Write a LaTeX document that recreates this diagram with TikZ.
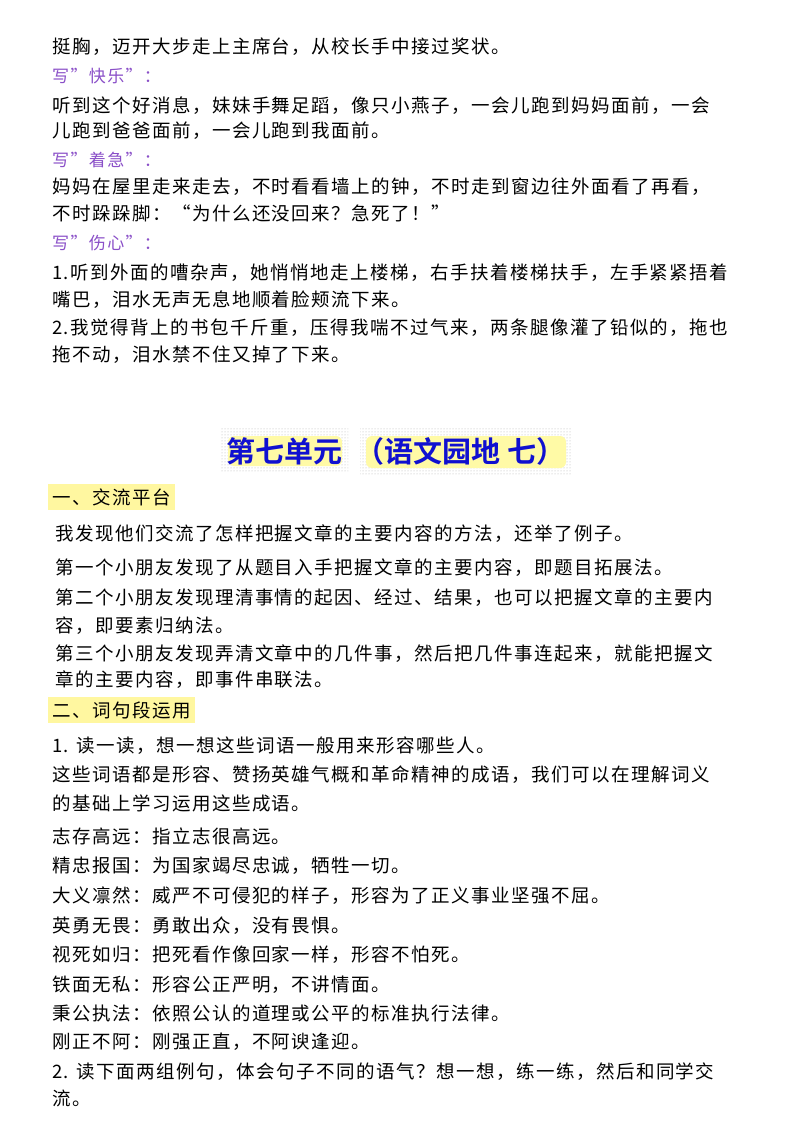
\documentclass[tikz,border=0pt]{standalone}
\usepackage{fontspec}
\setmainfont{Noto Sans CJK SC}[LetterSpace=8]
\newfontfamily\titlefont{Noto Sans CJK SC}[BoldFont=* Bold]
\usetikzlibrary{patterns}
\definecolor{purp}{HTML}{8A4FC8}
\definecolor{tblue}{HTML}{1010D0}
\definecolor{hl}{HTML}{FFF7A0}
\begin{document}
\begin{tikzpicture}[x=1pt,y=-1pt,
  ln/.style={anchor=west,inner sep=0pt,font=\fontsize{18.5}{20}\selectfont},
  pl/.style={ln,text=purp,font=\fontsize{17}{20}\selectfont},
  hd/.style={ln,fill=hl,inner xsep=4pt,inner ysep=4pt},
  tt/.style={inner sep=0pt,font=\titlefont\bfseries\fontsize{29}{32}\selectfont}]
\useasboundingbox (0,0) rectangle (800,1131);
\fill[white] (0,0) rectangle (800,1131);
\node[ln] (l1) at (52,47) {挺胸，迈开大步走上主席台，从校长手中接过奖状。};
\node[pl] (p1) at (52,76) {写"快乐"：};
\node[ln] (l2) at (52,106) {听到这个好消息，妹妹手舞足蹈，像只小燕子，一会儿跑到妈妈面前，一会};
\node[ln] (l3) at (52,131) {儿跑到爸爸面前，一会儿跑到我面前。};
\node[pl] (p2) at (52,160) {写"着急"：};
\node[ln] (l4) at (52,187) {妈妈在屋里走来走去，不时看看墙上的钟，不时走到窗边往外面看了再看，};
\node[ln] (l5) at (52,213) {不时跺跺脚：“为什么还没回来？急死了！”};
\node[pl] (p3) at (52,243) {写"伤心"：};
\node[ln] (l6) at (52,273) {1.听到外面的嘈杂声，她悄悄地走上楼梯，右手扶着楼梯扶手，左手紧紧捂着};
\node[ln] (l7) at (52,300) {嘴巴，泪水无声无息地顺着脸颊流下来。};
\node[ln] (l8) at (52,328) {2.我觉得背上的书包千斤重，压得我喘不过气来，两条腿像灌了铅似的，拖也};
\node[ln] (l9) at (52,355) {拖不动，泪水禁不住又掉了下来。};
% title
\fill[pattern=dots,pattern color=gray!60] (220,428) rectangle (348,472);
\fill[pattern=dots,pattern color=gray!60] (360,428) rectangle (572,475);
\fill[yellow!35,rounded corners=6pt] (228,436) rectangle (342,466);
\fill[yellow!35,rounded corners=6pt] (366,436) rectangle (566,468);
\node[tt,text=tblue] (title) at (396,451) {第七单元 \ （语文园地\ 七）};
\node[hd] (h1) at (48,497) {一、交流平台};
\node[ln] (a1) at (55,534) {我发现他们交流了怎样把握文章的主要内容的方法，还举了例子。};
\node[ln] (a2) at (55,568) {第一个小朋友发现了从题目入手把握文章的主要内容，即题目拓展法。};
\node[ln] (a3) at (55,598) {第二个小朋友发现理清事情的起因、经过、结果，也可以把握文章的主要内};
\node[ln] (a4) at (55,626) {容，即要素归纳法。};
\node[ln] (a5) at (55,654) {第三个小朋友发现弄清文章中的几件事，然后把几件事连起来，就能把握文};
\node[ln] (a6) at (55,680) {章的主要内容，即事件串联法。};
\node[hd] (h2) at (48,710) {二、词句段运用};
\node[ln] (b1) at (52,746) {1. 读一读，想一想这些词语一般用来形容哪些人。};
\node[ln] (b2) at (52,775) {这些词语都是形容、赞扬英雄气概和革命精神的成语，我们可以在理解词义};
\node[ln] (b3) at (52,803) {的基础上学习运用这些成语。};
\node[ln] (b4) at (52,836) {志存高远：指立志很高远。};
\node[ln] (b5) at (52,866) {精忠报国：为国家竭尽忠诚，牺牲一切。};
\node[ln] (b6) at (52,896) {大义凛然：威严不可侵犯的样子，形容为了正义事业坚强不屈。};
\node[ln] (b7) at (52,926) {英勇无畏：勇敢出众，没有畏惧。};
\node[ln] (b8) at (52,955) {视死如归：把死看作像回家一样，形容不怕死。};
\node[ln] (b9) at (52,985) {铁面无私：形容公正严明，不讲情面。};
\node[ln] (b10) at (52,1013) {秉公执法：依照公认的道理或公平的标准执行法律。};
\node[ln] (b11) at (52,1042) {刚正不阿：刚强正直，不阿谀逢迎。};
\node[ln] (b12) at (52,1072) {2. 读下面两组例句，体会句子不同的语气？想一想，练一练，然后和同学交};
\node[ln] (b13) at (52,1098) {流。};
\end{tikzpicture}
\end{document}
